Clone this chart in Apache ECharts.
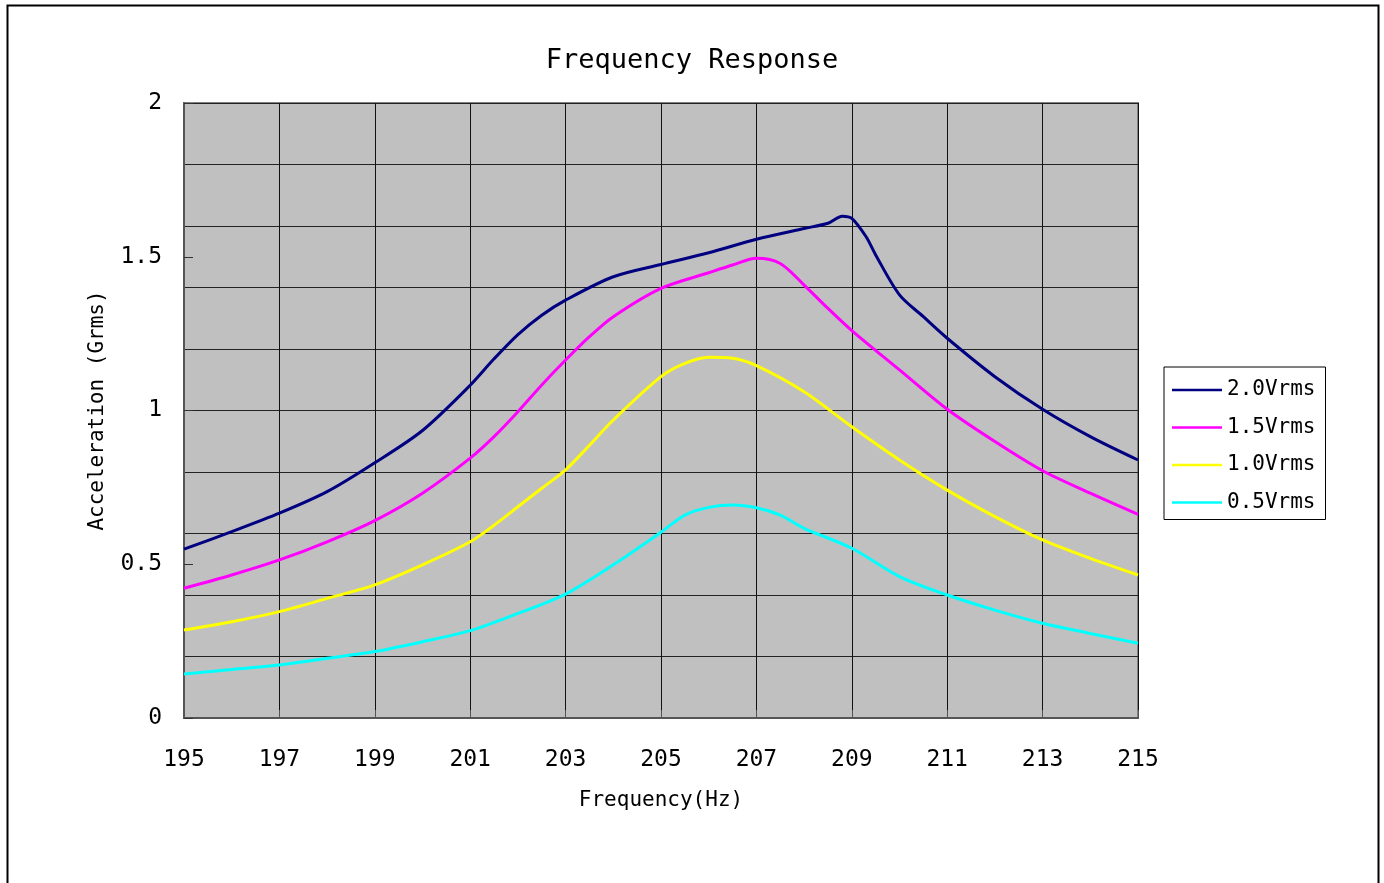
<!DOCTYPE html>
<html>
<head>
<meta charset="utf-8">
<script src="https://cdn.jsdelivr.net/npm/echarts@6/dist/echarts.min.js"></script>
<style>
html,body{margin:0;padding:0;background:#fff;overflow:hidden;}
#chart{width:1384px;height:883px;}
</style>
</head>
<body>
<div id="chart"></div>
<script>
// ---- data ----
const seriesNames = ['2.0Vrms', '1.5Vrms', '1.0Vrms', '0.5Vrms'];

const freq20 = [195,196,197,198,199,200,201,201.5,202,202.5,203,204,205,206,207,208,208.5,208.8,209,209.3,209.5,210,210.5,211,212,213,214,215];
const acc20  = [0.549,0.606,0.666,0.736,0.830,0.935,1.082,1.168,1.247,1.310,1.359,1.435,1.475,1.513,1.557,1.592,1.609,1.632,1.625,1.565,1.506,1.376,1.305,1.235,1.110,1.004,0.915,0.839];

const freq15 = [195,196,197,198,199,200,201,201.5,202,202.5,203,203.5,204,205,206,206.5,207,207.5,208,208.5,209,210,211,212,213,214,215];
const acc15  = [0.422,0.465,0.514,0.573,0.642,0.731,0.845,0.915,0.996,1.083,1.164,1.240,1.305,1.397,1.448,1.473,1.495,1.478,1.408,1.332,1.260,1.132,1.004,0.899,0.804,0.731,0.662];

const freq10 = [195,196,197,198,199,200,201,201.5,202,202.5,203,203.5,204,205,205.5,206,206.5,207,208,209,210,211,212,213,214,215];
const acc10  = [0.286,0.313,0.346,0.389,0.433,0.498,0.573,0.627,0.687,0.747,0.807,0.887,0.969,1.110,1.153,1.173,1.170,1.146,1.061,0.947,0.839,0.741,0.655,0.579,0.519,0.465];

const freq05 = [195,196,197,198,199,200,201,202,203,204,205,205.5,206,206.5,207,207.5,208,209,210,211,212,213,214,215];
const acc05  = [0.143,0.158,0.172,0.194,0.216,0.248,0.284,0.340,0.403,0.498,0.604,0.660,0.685,0.693,0.684,0.660,0.617,0.552,0.460,0.400,0.351,0.308,0.275,0.243];

const xTicks = [195,197,199,201,203,205,207,209,211,213,215];
const yTicks = [0,0.5,1,1.5,2];

const colors = ['#000080','#ff00ff','#ffff00','#00ffff'];
const FONT = 'DejaVu Sans Mono';

function pairs(xs, ys){ return xs.map((x,i)=>[x, ys[i]]); }
const allData = [pairs(freq20,acc20), pairs(freq15,acc15), pairs(freq10,acc10), pairs(freq05,acc05)];

const chart = echarts.init(document.getElementById('chart'));
chart.setOption({
  animation:false,
  backgroundColor:'#fff',
  graphic:[{
    type:'rect', left:5, top:3, silent:true,
    shape:{x:0,y:0,width:1371,height:920},
    style:{fill:'none', stroke:'#000', lineWidth:2}
  }],
  title:{
    text:'Frequency Response', left:'center', top:42,
    textStyle:{fontFamily:FONT, fontSize:27, fontWeight:'normal', color:'#000'}
  },
  legend:{
    orient:'vertical', left:1164, top:367,
    data:seriesNames.map(n=>({name:n, icon:'rect'})),
    itemWidth:50, itemHeight:2.5, itemGap:13.5,
    padding:[11,10,5,8],
    borderColor:'#000', borderWidth:1, backgroundColor:'#fff',
    textStyle:{fontFamily:FONT, fontSize:21, color:'#000', lineHeight:24}
  },
  grid:{
    left:184, top:103, width:954, height:615,
    show:true, backgroundColor:'#c0c0c0', borderColor:'#808080', borderWidth:2
  },
  xAxis:{
    type:'value', min:xTicks[0], max:xTicks[xTicks.length-1], interval:2,
    name:'Frequency(Hz)', nameLocation:'middle', nameGap:72,
    nameTextStyle:{fontFamily:FONT, fontSize:21, color:'#000'},
    axisLine:{show:true, lineStyle:{color:'#555', width:2}},
    axisTick:{show:true, inside:true, length:8, lineStyle:{color:'#555'}},
    axisLabel:{fontFamily:FONT, fontSize:23, color:'#000', margin:31},
    splitLine:{show:true, lineStyle:{color:'#111', width:1}}
  },
  yAxis:[{
    type:'value', min:yTicks[0], max:yTicks[yTicks.length-1], interval:0.5,
    name:'Acceleration (Grms)', nameLocation:'middle', nameGap:76,
    nameTextStyle:{fontFamily:FONT, fontSize:21, color:'#000'},
    axisLine:{show:true, lineStyle:{color:'#555', width:2}},
    axisTick:{show:true, inside:true, length:9, lineStyle:{color:'#333'}},
    axisLabel:{fontFamily:FONT, fontSize:23, color:'#000', margin:22},
    splitLine:{show:false}
  },{
    type:'value', min:0, max:2, interval:0.2, position:'left',
    axisLine:{show:false}, axisTick:{show:false}, axisLabel:{show:false},
    splitLine:{show:true, lineStyle:{color:'#222', width:1}}
  }],
  series: seriesNames.map((n,i)=>({
    name:n, type:'line', data:allData[i], yAxisIndex:0,
    smooth:0.3, symbol:'none', showSymbol:false,
    lineStyle:{color:colors[i], width:3}, itemStyle:{color:colors[i]},
    z:3
  }))
});
</script>
</body>
</html>
